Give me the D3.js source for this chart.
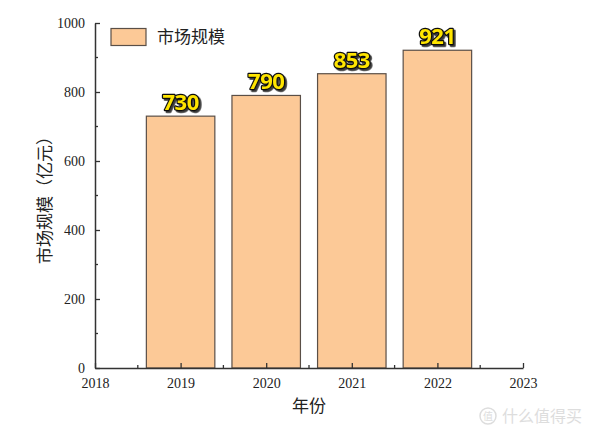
<!DOCTYPE html>
<html><head><meta charset="utf-8">
<script src="https://cdn.jsdelivr.net/npm/d3@7"></script>
<style>body{margin:0;background:#fff}svg{display:block}</style>
</head><body>
<script>
const years = [2019, 2020, 2021, 2022];
const values = [730, 790, 853, 921];
const xTicks = [2018, 2019, 2020, 2021, 2022, 2023];
const yTicks = [0, 200, 400, 600, 800, 1000];
const seriesName = "市场规模";

const W = 600, H = 433;
const svg = d3.select("body").append("svg").attr("width", W).attr("height", H);
const defs = svg.append("defs");
const f = defs.append("filter").attr("id", "shadow").attr("x", "-20%").attr("y", "-20%").attr("width", "150%").attr("height", "150%");
f.append("feDropShadow").attr("dx", 1.8).attr("dy", 1.8).attr("stdDeviation", 0.4).attr("flood-color", "#222").attr("flood-opacity", 0.9);

const x = d3.scaleLinear().domain([2018, 2023]).range([95, 523]);
const y = d3.scaleLinear().domain([0, 1000]).range([368, 23]);
const axisColor = "#333";
const serif = "Liberation Serif, DejaVu Serif, serif";
const cjk = "'Noto Sans CJK SC',sans-serif";

// bars
const bw = (x(2019) - x(2018)) * 0.8;
svg.selectAll("rect.bar").data(years).enter().append("rect")
  .attr("x", (d) => x(d) - bw / 2)
  .attr("y", (d, i) => y(values[i]))
  .attr("width", bw)
  .attr("height", (d, i) => y(0) - y(values[i]))
  .attr("fill", "#FCC997")
  .attr("stroke", "#5a4f47").attr("stroke-width", 1.2);

// axes
const xAxis = d3.axisBottom(x).tickValues(xTicks).tickFormat(d3.format("d")).tickSizeInner(-5).tickSizeOuter(0).tickPadding(10);
const gx = svg.append("g").attr("transform", `translate(0,${y(0)})`).call(xAxis);
const xMinor = d3.range(2018.5, 2023, 1);
gx.selectAll("line.minor").data(xMinor).enter().append("line").attr("class", "minor")
  .attr("x1", (d) => x(d)).attr("x2", (d) => x(d)).attr("y1", 0).attr("y2", -3);

const yAxis = d3.axisLeft(y).tickValues(yTicks).tickFormat(d3.format("d")).tickSizeInner(-5).tickSizeOuter(0).tickPadding(10);
const gy = svg.append("g").attr("transform", `translate(${x(2018)},0)`).call(yAxis);
const yMinor = d3.range(100, 1000, 200);
gy.selectAll("line.minor").data(yMinor).enter().append("line").attr("class", "minor")
  .attr("y1", (d) => y(d)).attr("y2", (d) => y(d)).attr("x1", 0).attr("x2", 3);

[gx, gy].forEach(g => {
  g.attr("font-family", serif).attr("font-size", 14);
  g.select(".domain").attr("stroke", axisColor).attr("stroke-width", 1.5);
  g.selectAll("line").attr("stroke", axisColor).attr("stroke-width", 1.3);
  g.selectAll("text").attr("fill", "#222").attr("font-family", serif);
});
gx.selectAll(".tick text").attr("dy", "0.71em");

// axis titles
svg.append("text").attr("x", 309).attr("y", 412).attr("text-anchor", "middle")
  .attr("font-family", cjk).attr("font-size", 17).attr("fill", "#222").text("年份");
svg.append("text").attr("transform", "translate(51,196) rotate(-90)").attr("text-anchor", "middle")
  .attr("font-family", cjk).attr("font-size", 17).attr("fill", "#222").text("市场规模（亿元）");

// legend
svg.append("rect").attr("x", 111).attr("y", 28.5).attr("width", 35).attr("height", 17)
  .attr("fill", "#FCC997").attr("stroke", "#5a4f47").attr("stroke-width", 1.2);
svg.append("text").attr("x", 157).attr("y", 43).attr("font-family", cjk).attr("font-size", 17)
  .attr("fill", "#222").text(seriesName);

// value labels
const lfont = "'Open Sans','DejaVu Sans',sans-serif";
svg.selectAll("text.lab").data(years).enter().append("text").attr("class", "lab")
  .attr("x", (d) => x(d)).attr("y", (d, i) => y(values[i]) - 6)
  .attr("text-anchor", "middle").attr("font-family", lfont).attr("font-weight", 700).attr("font-size", 22)
  .attr("letter-spacing", "-0.5")
  .attr("fill", "#FFE500").attr("stroke", "#111").attr("stroke-width", 2.5).attr("stroke-linejoin", "round")
  .style("paint-order", "stroke").attr("filter", "url(#shadow)")
  .text((d, i) => values[i]);

// watermark
svg.append("circle").attr("cx", 488).attr("cy", 416).attr("r", 8).attr("fill", "none").attr("stroke", "#ddd").attr("stroke-width", 1.5);
svg.append("text").attr("x", 488).attr("y", 420).attr("text-anchor", "middle").attr("font-family", cjk).attr("font-size", 10).attr("fill", "#ddd").text("值");
svg.append("text").attr("x", 502).attr("y", 422).attr("font-family", cjk).attr("font-size", 16).attr("fill", "#ddd").text("什么值得买");
</script>
</body></html>
